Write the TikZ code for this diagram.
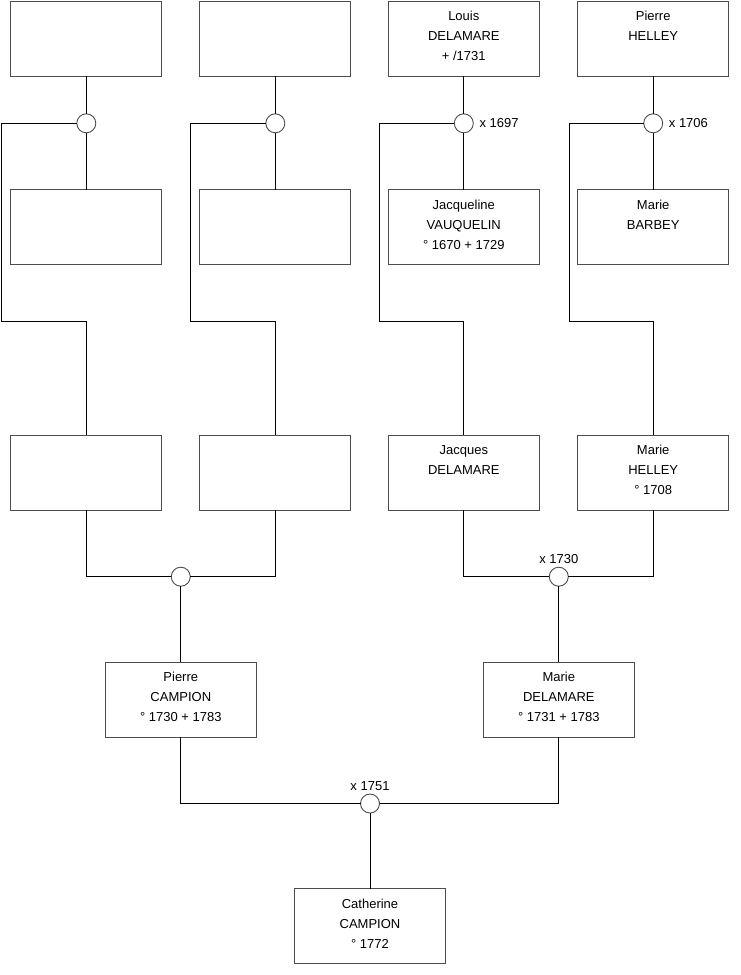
\documentclass[tikz,border=0pt]{standalone}
\usepackage{fontspec}
\setmainfont{Liberation Sans}
\usepackage{tikz}
\usetikzlibrary{positioning}

% three text lines per person, the unused ones left blank
\newcommand{\who}[3]{\begin{tabular}{@{}c@{}}#1\\#2\\#3\\[4pt]\end{tabular}}

\begin{document}
\begin{tikzpicture}[
    x=1pt, y=-1pt,
    font=\fontsize{13}{20}\selectfont,
    person/.style={draw=black!70, line width=1pt, fill=white,
      minimum width=151pt, minimum height=75pt, inner sep=0pt, outer sep=0pt},
    wed/.style={circle, draw=black!70, line width=0.9pt, fill=white,
      minimum size=19pt, inner sep=0pt, outer sep=0pt},
    link/.style={line width=0.9pt},
    lbl/.style={inner sep=1pt}
  ]
    \useasboundingbox (0,0) rectangle (740,975);

    % first row
    \node[person] (ga) at (86.3,38.5) {};
    \node[person] (gb) at (275.3,38.5) {};
    \node[person] (louis) at (463.8,38.5) {\who{Louis}{DELAMARE}{+ /1731}};
    \node[person] (pierreh) at (653.2,38.5) {\who{Pierre}{HELLEY}{}};

    % second row
    \node[person] (gc) at (86.3,227) {};
    \node[person] (gd) at (275.3,227) {};
    \node[person] (jacqueline) at (463.8,227) {\who{Jacqueline}{VAUQUELIN}{° 1670 + 1729}};
    \node[person] (marieb) at (653.2,227) {\who{Marie}{BARBEY}{}};

    % third row
    \node[person] (fa) at (86.3,472.7) {};
    \node[person] (fb) at (275.3,472.7) {};
    \node[person] (jacques) at (463.8,472.7) {\who{Jacques}{DELAMARE}{}};
    \node[person] (marieh) at (653.2,472.7) {\who{Marie}{HELLEY}{° 1708}};

    % parents and child
    \node[person] (pierrec) at (180.8,699.5) {\who{Pierre}{CAMPION}{° 1730 + 1783}};
    \node[person] (mariedl) at (558.8,699.5) {\who{Marie}{DELAMARE}{° 1731 + 1783}};
    \node[person] (catherine) at (370,926) {\who{Catherine}{CAMPION}{° 1772}};

    % marriages
    \node[wed] (ua) at (86.3,123.3) {};
    \node[wed] (ub) at (275.3,123.3) {};
    \node[wed] (uc) at (463.8,123.3) {};
    \node[wed] (ud) at (653.2,123.3) {};
    \node[wed] (ue) at (180.8,576.7) {};
    \node[wed] (uf) at (558.8,576.7) {};
    \node[wed] (ug) at (370,803.5) {};

    \node[lbl, right=5pt of uc] (dc) {x 1697};
    \node[lbl, right=5pt of ud] (dd) {x 1706};
    \node[lbl, above=2pt of uf] (df) {x 1730};
    \node[lbl, above=2pt of ug] (dg) {x 1751};

    % corners of the lines down to the children
    \coordinate (ka) at (1.7,321.7);
    \coordinate (kb) at (190.3,321.7);
    \coordinate (kc) at (379.3,321.7);
    \coordinate (kd) at (569,321.7);

    \draw[link] (ga) -- (ua) -- (gc);
    \draw[link] (gb) -- (ub) -- (gd);
    \draw[link] (louis) -- (uc) -- (jacqueline);
    \draw[link] (pierreh) -- (ud) -- (marieb);

    \draw[link] (ua.west) -| (ka) -| (fa.north);
    \draw[link] (ub.west) -| (kb) -| (fb.north);
    \draw[link] (uc.west) -| (kc) -| (jacques.north);
    \draw[link] (ud.west) -| (kd) -| (marieh.north);

    \draw[link] (fa.south) |- (ue.west);
    \draw[link] (fb.south) |- (ue.east);
    \draw[link] (ue) -- (pierrec);
    \draw[link] (jacques.south) |- (uf.west);
    \draw[link] (marieh.south) |- (uf.east);
    \draw[link] (uf) -- (mariedl);

    \draw[link] (pierrec.south) |- (ug.west);
    \draw[link] (mariedl.south) |- (ug.east);
    \draw[link] (ug) -- (catherine);
  \end{tikzpicture}
\end{document}
